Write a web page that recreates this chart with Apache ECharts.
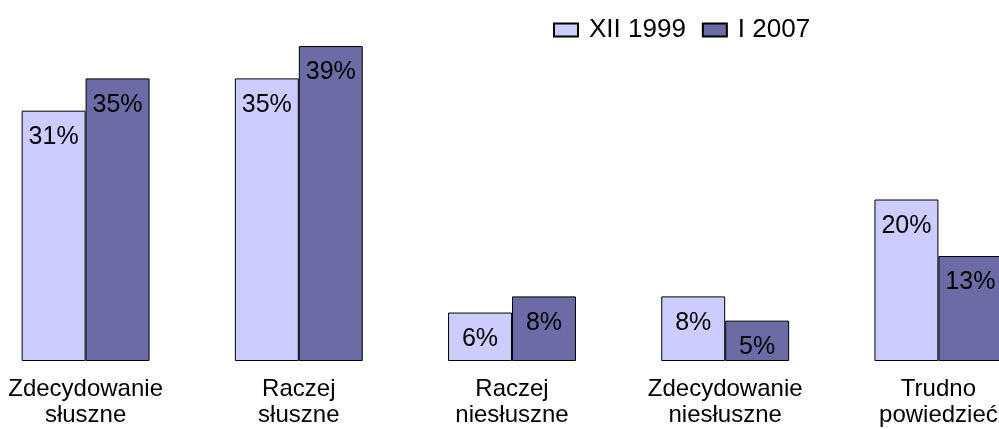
<!DOCTYPE html>
<html>
<head>
<meta charset="utf-8">
<script src="https://cdn.jsdelivr.net/npm/echarts@6/dist/echarts.min.js"></script>
<style>
  html, body { margin: 0; padding: 0; background: #fff; }
  #chart { width: 999px; height: 429px; }
</style>
</head>
<body>
<div id="chart"></div>
<script>
// answer categories (two-line labels)
const categories = [
    'Zdecydowanie\nsłuszne',
    'Raczej\nsłuszne',
    'Raczej\nniesłuszne',
    'Zdecydowanie\nniesłuszne',
    'Trudno\npowiedzieć'
];
const seriesNames = ['XII 1999', 'I 2007'];
const values1999 = [31, 35, 6, 8, 20];
const values2007 = [35, 39, 8, 5, 13];

const font = 'Liberation Sans, Arial, sans-serif';

let labelStyle = {
    show: true,
    position: 'insideTop',
    distance: 14,
    formatter: '{c}%',
    color: '#000',
    fontSize: 25,
    fontFamily: font
};

let chart = echarts.init(document.getElementById('chart'), null, {renderer: 'canvas'});
chart.setOption({
    animation: false,
    backgroundColor: '#fff',
    legend: {
        top: 12,
        left: 548,
        icon: 'rect',
        itemWidth: 24,
        itemHeight: 13,
        itemGap: 16,
        textStyle: {fontSize: 26, fontFamily: font, color: '#000', padding: [0, 0, 0, 6]},
        data: seriesNames
    },
    grid: {
        left: -21,
        right: -46,
        top: 38,
        bottom: 68,
        containLabel: false,
        outerBoundsMode: 'none'
    },
    xAxis: {
        type: 'category',
        data: categories,
        axisLine: {show: false},
        axisTick: {show: false},
        axisLabel: {
            fontSize: 24,
            lineHeight: 26,
            margin: 15,
            color: '#000',
            fontFamily: font,
            interval: 0,
            hideOverlap: false
        }
    },
    yAxis: {
        type: 'value',
        min: 0,
        max: 40,
        show: false,
        splitLine: {show: false}
    },
    series: [
        {
            name: seriesNames[0],
            type: 'bar',
            data: values1999,
            barWidth: '30%',
            barGap: '0%',
            itemStyle: {color: '#ccccff', borderColor: '#000', borderWidth: 1},
            label: labelStyle
        },
        {
            name: seriesNames[1],
            type: 'bar',
            data: values2007,
            barWidth: '30%',
            barGap: '0%',
            itemStyle: {color: '#6b6ba6', borderColor: '#000', borderWidth: 1},
            label: labelStyle
        }
    ]
});
</script>
</body>
</html>
